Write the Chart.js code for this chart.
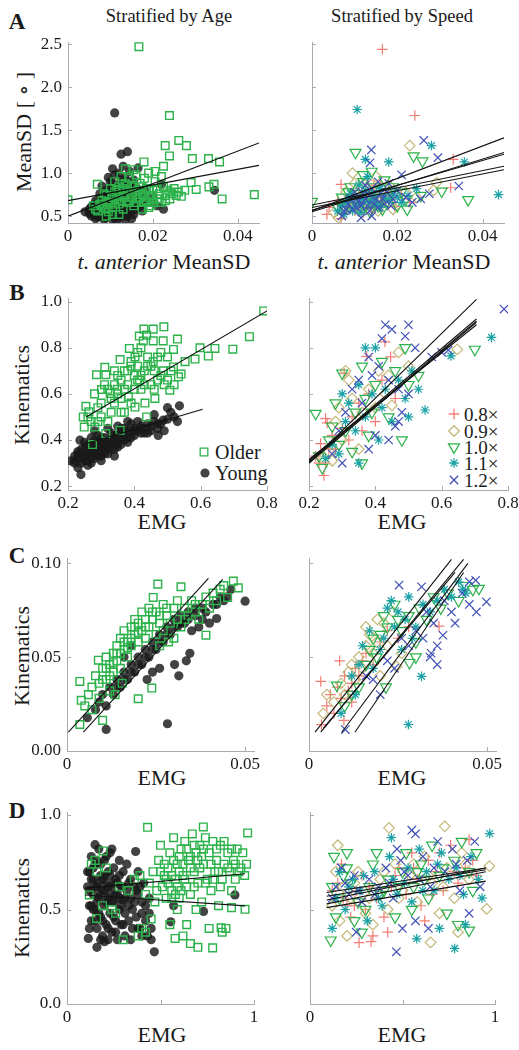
<!DOCTYPE html>
<html><head><meta charset="utf-8">
<script src="https://cdn.jsdelivr.net/npm/chart.js@4"></script>
<style>
body{margin:0;background:#fff;width:519px;height:1050px;position:relative;overflow:hidden;font-family:"Liberation Serif","Times New Roman",Tinos,Times,"DejaVu Serif",serif;color:#1a1a1a}
canvas{position:absolute}
.t{position:absolute;white-space:nowrap;transform:translate(-50%,-50%);line-height:1}
.r{transform:translate(-50%,-50%) rotate(-90deg)}
.l{position:absolute;white-space:nowrap;transform:translate(0,-50%);line-height:1}
</style></head><body>
<div class="t" style="left:17px;top:21px;font-size:23px;font-weight:bold">A</div>
<div class="t" style="left:17px;top:292px;font-size:23px;font-weight:bold">B</div>
<div class="t" style="left:17px;top:555px;font-size:23px;font-weight:bold">C</div>
<div class="t" style="left:17px;top:810px;font-size:23px;font-weight:bold">D</div>
<div class="t" style="left:169px;top:16px;font-size:18.5px">Stratified by Age</div>
<div class="t" style="left:402px;top:16px;font-size:18.5px">Stratified by Speed</div>
<div class="t r" style="left:24px;top:132px;font-size:22px">MeanSD [ ∘ ]</div>
<div class="t r" style="left:22px;top:395px;font-size:22px">Kinematics</div>
<div class="t r" style="left:22px;top:656px;font-size:22px">Kinematics</div>
<div class="t r" style="left:22px;top:908px;font-size:22px">Kinematics</div>
<div class="t" style="left:164px;top:262px;font-size:22px"><i>t. anterior</i> MeanSD</div>
<div class="t" style="left:404px;top:262px;font-size:22px"><i>t. anterior</i> MeanSD</div>
<div class="t" style="left:162px;top:522px;font-size:22px">EMG</div>
<div class="t" style="left:402px;top:522px;font-size:22px">EMG</div>
<div class="t" style="left:162px;top:778px;font-size:22px">EMG</div>
<div class="t" style="left:402px;top:778px;font-size:22px">EMG</div>
<div class="t" style="left:162px;top:1035px;font-size:22px">EMG</div>
<div class="t" style="left:402px;top:1035px;font-size:22px">EMG</div>
<div class="l" style="left:215px;top:452px;font-size:20px">Older</div>
<div class="l" style="left:215px;top:473px;font-size:20px">Young</div>
<div class="l" style="left:464px;top:414px;font-size:19px">0.8×</div>
<div class="l" style="left:464px;top:431px;font-size:19px">0.9×</div>
<div class="l" style="left:464px;top:447px;font-size:19px">1.0×</div>
<div class="l" style="left:464px;top:463px;font-size:19px">1.1×</div>
<div class="l" style="left:464px;top:480px;font-size:19px">1.2×</div>
<script>
// ---------- tick arrays ----------
const aXTicks=[0,0.02,0.04], aXTickLabels=['0','0.02','0.04'];
const aYTicks=[0.5,1.0,1.5,2.0,2.5], aYTickLabels=['0.5','1.0','1.5','2.0','2.5'];
const bXTicks=[0.2,0.4,0.6,0.8], bXTickLabels=['0.2','0.4','0.6','0.8'];
const bYTicks=[0.2,0.4,0.6,0.8,1.0], bYTickLabels=['0.2','0.4','0.6','0.8','1.0'];
const cXTicks=[0,0.05], cXTickLabels=['0','0.05'];
const cYTicks=[0,0.05,0.10], cYTickLabels=['0.00','0.05','0.10'];
const dXTicks=[0,0.5,1], dXTickLabels=['0','','1'];
const dYTicks=[0,0.5,1.0], dYTickLabels=['0.0','0.5','1.0'];

const ageGroups=['Older','Young'];
const speedGroups=['0.8×','0.9×','1.0×','1.1×','1.2×'];

// ---------- Panel A ----------
const aYoung=[[0.011,1.70],[0.014,1.25],[0.0125,1.22],[0.0105,1.05],[0.0165,1.06],[0.0345,0.80],[0.0225,0.58],[0.022,0.87],
[0.004,0.55],[0.005,0.58],[0.0055,0.50],[0.006,0.62],[0.006,0.52],[0.0065,0.47],[0.007,0.56],[0.007,0.66],[0.0075,0.50],[0.008,0.60],[0.008,0.72],[0.0085,0.46],[0.0085,0.54],[0.009,0.64],[0.009,0.80],[0.0095,0.50],[0.0095,0.70],[0.010,0.58],[0.010,0.90],[0.0105,0.46],[0.0105,0.76],[0.011,0.54],[0.011,0.66],[0.011,0.98],[0.0115,0.84],[0.0115,0.60],[0.012,0.48],[0.012,0.72],[0.012,1.00],[0.0125,0.56],[0.0125,0.88],[0.013,0.64],[0.013,0.78],[0.013,1.08],[0.0135,0.50],[0.0135,0.94],[0.014,0.70],[0.014,0.58],[0.0145,0.86],[0.0145,1.02],[0.015,0.62],[0.015,0.76],[0.0155,0.52],[0.0155,0.92],[0.016,0.68],[0.016,0.84],[0.0165,0.60],[0.017,0.74],[0.0175,0.56],[0.018,0.80],[0.019,0.66],[0.020,0.72],[0.021,0.62],[0.008,0.85],[0.0095,0.95],[0.0075,0.76],[0.0065,0.68],[0.0115,0.45],[0.0135,0.45],[0.015,0.47],[0.010,0.63],[0.012,0.62],
[0.005,0.53],[0.0055,0.61],[0.006,0.57],[0.0065,0.55],[0.007,0.49],[0.007,0.61],[0.0075,0.58],[0.0075,0.66],[0.008,0.52],[0.008,0.64],[0.0085,0.58],[0.0085,0.70],[0.009,0.48],[0.009,0.56],[0.009,0.68],[0.0095,0.60],[0.0095,0.78],[0.010,0.52],[0.010,0.70],[0.010,0.82],[0.0105,0.56],[0.0105,0.66],[0.011,0.48],[0.011,0.60],[0.011,0.72],[0.0115,0.52],[0.0115,0.66],[0.0115,0.78],[0.012,0.56],[0.012,0.68],[0.012,0.80],[0.0125,0.50],[0.0125,0.64],[0.013,0.54],[0.013,0.70],[0.0135,0.60],[0.0135,0.82],[0.014,0.50],[0.014,0.64],[0.0145,0.54],[0.0145,0.72],[0.015,0.56],[0.0155,0.66],[0.016,0.58],[0.0165,0.72],[0.017,0.62],[0.018,0.70],[0.0125,0.92],[0.0105,0.88],[0.014,0.90]];
const aOlder=[[0.0167,2.47],[0.0239,1.67],[0.0261,1.38],[0.0229,1.32],[0.0279,1.32],[0.0331,1.17],[0.0357,1.13],[0.0293,1.17],[0.0239,1.20],[0.0179,1.13],[0.0439,0.75],[0.0363,0.70],[0.0344,0.87],[0.0302,0.81],[0.029,0.89],[0.0332,0.84],[0.0267,0.73],[0.0069,0.87],[0.0,0.69],
[0.006,0.62],[0.007,0.56],[0.008,0.68],[0.0085,0.60],[0.009,0.74],[0.0095,0.55],[0.010,0.82],[0.010,0.66],[0.0105,0.60],[0.011,0.78],[0.011,0.90],[0.0115,0.70],[0.012,0.64],[0.012,0.84],[0.0125,0.96],[0.013,0.74],[0.013,0.58],[0.0135,0.88],[0.014,0.66],[0.014,0.80],[0.0145,0.94],[0.015,0.72],[0.015,0.86],[0.0155,0.62],[0.016,0.78],[0.016,0.98],[0.0165,0.70],[0.017,0.88],[0.0175,0.76],[0.018,0.66],[0.018,0.94],[0.0185,0.82],[0.019,0.72],[0.019,1.00],[0.0195,0.62],[0.020,0.80],[0.0205,0.90],[0.021,0.70],[0.0215,0.76],[0.022,0.96],[0.022,0.66],[0.0225,0.84],[0.023,0.74],[0.0235,0.80],[0.024,0.70],[0.0245,0.76],[0.025,0.82],[0.0255,0.74],[0.026,0.78],[0.0275,0.80],[0.019,0.60],[0.0175,0.58],[0.012,0.52],[0.009,0.50],[0.0105,0.52],[0.0155,1.04],[0.0135,1.05],[0.0205,1.02],[0.0225,1.08],
[0.008,0.62],[0.009,0.58],[0.0095,0.66],[0.0105,0.72],[0.011,0.64],[0.0115,0.80],[0.012,0.74],[0.0125,0.68],[0.013,0.82],[0.0135,0.72],[0.014,0.86],[0.0145,0.68],[0.015,0.78],[0.0155,0.84],[0.016,0.66],[0.0165,0.80],[0.017,0.72],[0.0175,0.84],[0.018,0.74],[0.0185,0.68],[0.019,0.80],[0.0195,0.74],[0.020,0.66],[0.021,0.82],[0.0215,0.70],[0.023,0.68],[0.024,0.78],[0.0065,0.58],[0.0075,0.64],[0.0085,0.76]];
const aSp08=[[0.0165,2.44],[0.0241,1.67],[0.0331,1.16],[0.0325,0.83],[0.0068,0.87],[0.0195,0.61],[0.0068,0.47],[0.004,0.60],[0.008,0.70],[0.010,0.56],[0.011,0.80],[0.012,0.66],[0.013,0.92],[0.014,0.60],[0.015,0.74],[0.016,0.88],[0.017,0.68],[0.018,0.78],[0.009,0.64],[0.0125,0.74],[0.021,0.70],[0.023,0.66],[0.0035,0.52],[0.006,0.68],
[0.009,0.58],[0.010,0.74],[0.011,0.64],[0.012,0.54],[0.013,0.70],[0.014,0.78],[0.015,0.62],[0.016,0.72],[0.007,0.62],[0.0145,0.86]];
const aSp09=[[0.0229,1.32],[0.0292,0.89],[0.0285,0.80],[0.0052,0.54],[0.0062,0.48],[0.008,0.78],[0.009,0.62],[0.010,0.88],[0.011,0.72],[0.012,0.58],[0.013,0.82],[0.014,0.68],[0.015,0.96],[0.016,0.62],[0.017,0.76],[0.018,0.86],[0.020,0.68],[0.022,0.78],[0.0245,0.72],[0.0075,0.56],[0.0095,1.00],[0.0155,0.56],[0.019,0.58],
[0.008,0.60],[0.0085,0.70],[0.0105,0.64],[0.0115,0.84],[0.0125,0.66],[0.0135,0.74],[0.0145,0.60],[0.0165,0.70],[0.018,0.66],[0.011,0.56]];
const aSp10=[[0.0102,1.24],[0.0238,1.20],[0.0259,1.14],[0.0304,0.79],[0.0366,0.69],[0,0.67],[0.0223,0.58],[0.006,0.60],[0.007,0.72],[0.008,0.64],[0.009,0.84],[0.010,0.70],[0.011,0.60],[0.012,0.90],[0.013,0.74],[0.0135,0.56],[0.014,1.02],[0.015,0.80],[0.016,0.70],[0.017,0.92],[0.018,0.72],[0.019,0.84],[0.020,0.62],[0.021,0.78],[0.0255,0.74],[0.012,0.98],[0.0165,0.58],
[0.0075,0.58],[0.0085,0.78],[0.0095,0.62],[0.0105,0.76],[0.0115,0.68],[0.0125,0.62],[0.014,0.66],[0.0145,0.84],[0.0155,0.62],[0.0175,0.66],[0.0185,0.78],[0.022,0.70]];
const aSp11=[[0.0106,1.74],[0.028,1.32],[0.0125,1.16],[0.018,1.13],[0.0357,1.13],[0.0437,0.75],[0.006,0.56],[0.008,0.66],[0.009,0.76],[0.010,0.62],[0.011,0.86],[0.012,0.70],[0.013,0.96],[0.014,0.76],[0.015,0.64],[0.016,0.82],[0.017,0.72],[0.019,0.76],[0.021,0.66],[0.0225,0.74],[0.0245,0.82],[0.0075,0.52],[0.0115,0.54],
[0.007,0.62],[0.0085,0.70],[0.0095,0.56],[0.0105,0.72],[0.0115,0.64],[0.0125,0.80],[0.0135,0.66],[0.0145,0.70],[0.016,0.60],[0.018,0.68],[0.020,0.72]];
const aSp12=[[0.0262,1.38],[0.0139,1.27],[0.0136,1.12],[0.0344,0.85],[0.0295,1.18],[0.007,0.50],[0.008,0.58],[0.009,0.70],[0.010,0.78],[0.0105,0.60],[0.011,0.68],[0.012,0.76],[0.0125,0.86],[0.013,0.62],[0.014,0.82],[0.015,0.70],[0.0155,0.90],[0.016,0.76],[0.017,0.64],[0.018,0.88],[0.019,0.70],[0.020,0.80],[0.021,0.98],[0.022,0.72],[0.0235,0.66],[0.0255,0.70],[0.0275,0.76],[0.014,0.50],[0.0115,0.48],
[0.0075,0.56],[0.0085,0.64],[0.0095,0.58],[0.0105,0.70],[0.0115,0.62],[0.0125,0.70],[0.0135,0.56],[0.0135,0.74],[0.0145,0.64],[0.0155,0.60],[0.0165,0.70],[0.0175,0.78],[0.0185,0.62]];
const aAgeLines=[[[0,0.50],[0.045,1.35]],[[0,0.68],[0.045,1.09]]];
const aSpeedLines=[[[0,0.56],[0.045,1.41]],[[0,0.55],[0.045,1.24]],[[0,0.57],[0.045,1.22]],[[0,0.63],[0.045,1.08]],[[0,0.60],[0.045,1.04]]];

// ---------- Panel B ----------
const bOlder=[[0.79,0.96],[0.747,0.848],[0.697,0.794],[0.643,0.797],[0.623,0.764],[0.598,0.80],[0.583,0.751],[0.553,0.74],[0.541,0.686],[0.518,0.793],[0.53,0.838],[0.489,0.891],[0.457,0.881],[0.429,0.881],[0.437,0.855],[0.415,0.851],[0.427,0.829],[0.457,0.83],[0.487,0.83],[0.385,0.797],[0.357,0.749],[0.402,0.76],[0.311,0.715],[0.314,0.683],[0.286,0.683],[0.301,0.619],[0.327,0.602],[0.349,0.62],[0.254,0.546],[0.263,0.522],[0.246,0.50],[0.249,0.456],[0.281,0.456],[0.274,0.38],[0.314,0.428],[0.357,0.442],[0.437,0.50],[0.507,0.616],[0.533,0.674],[0.518,0.717],[0.488,0.70],[0.457,0.74],[0.50,0.76],[0.416,0.66],[0.382,0.587],[0.402,0.543],[0.432,0.56],[0.462,0.58],[0.34,0.56],[0.37,0.52],[0.30,0.50],
[0.37,0.70],[0.39,0.74],[0.41,0.78],[0.44,0.72],[0.47,0.66],[0.48,0.78],[0.45,0.64],[0.42,0.62],[0.36,0.66],[0.33,0.58],[0.29,0.54],[0.27,0.48],[0.32,0.48],[0.35,0.60],[0.40,0.68],[0.43,0.70],[0.46,0.70],[0.49,0.64],[0.51,0.70],[0.38,0.64],[0.31,0.64],[0.28,0.60],[0.26,0.50],[0.34,0.70],[0.36,0.52],[0.41,0.72],[0.47,0.76],[0.42,0.80],[0.39,0.56],
[0.30,0.56],[0.32,0.62],[0.34,0.64],[0.35,0.68],[0.37,0.62],[0.38,0.70],[0.40,0.62],[0.41,0.66],[0.43,0.64],[0.44,0.76],[0.45,0.72],[0.46,0.62],[0.48,0.68],[0.50,0.66],[0.52,0.64],[0.33,0.52],[0.29,0.48],[0.36,0.58],[0.39,0.72],[0.42,0.68]];
const bYoung=[[0.208,0.309],[0.239,0.25],[0.536,0.548],[0.50,0.54],[0.472,0.42],[0.487,0.486],[0.236,0.399],
[0.22,0.30],[0.22,0.33],[0.23,0.32],[0.23,0.35],[0.24,0.30],[0.24,0.34],[0.25,0.31],[0.25,0.36],[0.25,0.39],[0.26,0.33],[0.26,0.38],[0.27,0.32],[0.27,0.35],[0.27,0.41],[0.28,0.34],[0.28,0.38],[0.29,0.33],[0.29,0.37],[0.29,0.42],[0.30,0.35],[0.30,0.39],[0.31,0.34],[0.31,0.37],[0.31,0.41],[0.32,0.36],[0.32,0.40],[0.33,0.38],[0.33,0.43],[0.34,0.36],[0.34,0.40],[0.35,0.39],[0.35,0.42],[0.35,0.46],[0.36,0.38],[0.36,0.43],[0.37,0.40],[0.37,0.45],[0.38,0.41],[0.38,0.44],[0.39,0.43],[0.39,0.47],[0.40,0.42],[0.40,0.45],[0.41,0.44],[0.41,0.48],[0.42,0.43],[0.42,0.46],[0.43,0.45],[0.44,0.47],[0.44,0.43],[0.45,0.46],[0.46,0.48],[0.47,0.45],[0.48,0.47],[0.50,0.49],[0.51,0.52],[0.53,0.48],[0.46,0.51],[0.34,0.33],[0.30,0.31],[0.26,0.29],[0.23,0.28],[0.28,0.44],[0.32,0.45],[0.38,0.48],[0.27,0.30],
[0.22,0.31],[0.23,0.34],[0.24,0.32],[0.24,0.36],[0.25,0.33],[0.26,0.31],[0.26,0.35],[0.27,0.33],[0.27,0.37],[0.28,0.32],[0.28,0.36],[0.28,0.40],[0.29,0.35],[0.29,0.39],[0.30,0.33],[0.30,0.37],[0.30,0.41],[0.31,0.36],[0.31,0.39],[0.32,0.34],[0.32,0.38],[0.33,0.36],[0.33,0.40],[0.34,0.38],[0.34,0.42],[0.35,0.37],[0.36,0.40],[0.36,0.45],[0.37,0.42],[0.38,0.39],[0.39,0.41],[0.40,0.44],[0.42,0.45],[0.43,0.43],[0.45,0.44],[0.47,0.47],[0.49,0.44],[0.52,0.50]];
const bSp08=[[0.429,0.826],[0.446,0.761],[0.374,0.763],[0.306,0.689],[0.25,0.493],[0.255,0.474],[0.235,0.384],[0.245,0.246],[0.25,0.30],[0.22,0.33],[0.27,0.42],[0.28,0.36],[0.30,0.45],[0.33,0.50],[0.35,0.56],[0.38,0.60],[0.40,0.48],[0.42,0.66],[0.36,0.44],[0.26,0.36],[0.23,0.30],[0.32,0.40],[0.46,0.58]];
const bSp09=[[0.647,0.793],[0.31,0.70],[0.32,0.66],[0.47,0.78],[0.43,0.60],[0.26,0.35],[0.28,0.48],[0.30,0.40],[0.33,0.58],[0.36,0.52],[0.38,0.62],[0.40,0.54],[0.44,0.68],[0.27,0.31],[0.35,0.36],[0.45,0.55],[0.50,0.72],[0.29,0.54],[0.24,0.32],[0.41,0.70]];
const bSp10=[[0.70,0.793],[0.49,0.80],[0.22,0.515],[0.30,0.69],[0.36,0.72],[0.23,0.33],[0.24,0.28],[0.26,0.40],[0.27,0.46],[0.29,0.38],[0.31,0.44],[0.33,0.35],[0.34,0.52],[0.36,0.30],[0.37,0.58],[0.38,0.42],[0.40,0.64],[0.42,0.74],[0.44,0.50],[0.46,0.70],[0.48,0.40],[0.50,0.64],[0.53,0.68],[0.39,0.52],[0.28,0.56]];
const bSp11=[[0.75,0.845],[0.628,0.765],[0.55,0.53],[0.50,0.50],[0.37,0.80],[0.40,0.80],[0.25,0.32],[0.27,0.38],[0.29,0.34],[0.31,0.48],[0.32,0.56],[0.34,0.44],[0.35,0.64],[0.37,0.50],[0.39,0.60],[0.41,0.40],[0.43,0.62],[0.45,0.48],[0.47,0.66],[0.49,0.58],[0.51,0.70],[0.53,0.62],[0.35,0.30],[0.30,0.60],[0.42,0.54]];
const bSp12=[[0.788,0.968],[0.43,0.90],[0.45,0.88],[0.50,0.90],[0.62,0.79],[0.57,0.76],[0.60,0.78],[0.49,0.85],[0.38,0.76],[0.42,0.84],[0.47,0.62],[0.52,0.80],[0.35,0.66],[0.33,0.62],[0.29,0.44],[0.31,0.52],[0.36,0.56],[0.39,0.68],[0.41,0.72],[0.44,0.66],[0.46,0.46],[0.48,0.52],[0.50,0.60],[0.40,0.42],[0.44,0.40],[0.27,0.34],[0.30,0.30],[0.38,0.36],[0.47,0.48]];
const bAgeLines=[[[0.255,0.50],[0.80,0.96]],[[0.24,0.378],[0.606,0.533]]];
const bSpeedLines=[[[0.2,0.30],[0.705,1.01]],[[0.2,0.31],[0.705,0.925]],[[0.2,0.30],[0.705,0.91]],[[0.2,0.305],[0.705,0.915]],[[0.2,0.315],[0.705,0.90]]];

// ---------- Panel C ----------
const cOlder=[[0.0036,0.0141],[0.0036,0.037],[0.0255,0.0888],[0.032,0.0874],[0.0242,0.0817],[0.0467,0.0904],[0.0481,0.0868],[0.0451,0.0817],[0.039,0.0616],[0.0238,0.0335],[0.020,0.0278],[0.010,0.0163],[0.0088,0.0483],
[0.004,0.027],[0.005,0.024],[0.006,0.030],[0.007,0.034],[0.007,0.022],[0.008,0.040],[0.009,0.036],[0.009,0.028],[0.010,0.044],[0.011,0.038],[0.011,0.050],[0.012,0.046],[0.012,0.032],[0.013,0.052],[0.013,0.042],[0.014,0.056],[0.014,0.048],[0.015,0.060],[0.015,0.044],[0.016,0.054],[0.016,0.064],[0.017,0.050],[0.017,0.058],[0.018,0.066],[0.018,0.056],[0.019,0.062],[0.019,0.070],[0.020,0.058],[0.020,0.068],[0.021,0.064],[0.021,0.074],[0.022,0.060],[0.022,0.070],[0.023,0.066],[0.023,0.076],[0.024,0.070],[0.025,0.062],[0.025,0.074],[0.026,0.068],[0.027,0.078],[0.027,0.064],[0.028,0.072],[0.029,0.068],[0.030,0.076],[0.030,0.060],[0.031,0.070],[0.032,0.066],[0.033,0.076],[0.034,0.072],[0.035,0.080],[0.036,0.074],[0.037,0.070],[0.038,0.078],[0.039,0.082],[0.040,0.076],[0.041,0.084],[0.042,0.080],[0.043,0.086],[0.044,0.088],[0.0135,0.030],[0.0155,0.036],[0.026,0.056],[0.0285,0.058],
[0.013,0.047],[0.015,0.052],[0.016,0.058],[0.017,0.055],[0.018,0.060],[0.019,0.066],[0.020,0.063],[0.022,0.066],[0.024,0.074],[0.026,0.072],[0.028,0.076],[0.011,0.044],[0.012,0.040],[0.014,0.052],[0.010,0.038],[0.031,0.080],[0.033,0.070],[0.036,0.078]];
const cYoung=[[0.05,0.0797],[0.042,0.0705],[0.0282,0.0145],[0.011,0.0115],[0.0057,0.0177],[0.0314,0.040],[0.0302,0.046],[0.0345,0.052],[0.0335,0.048],
[0.008,0.022],[0.009,0.026],[0.010,0.030],[0.011,0.024],[0.012,0.034],[0.013,0.030],[0.014,0.038],[0.015,0.034],[0.016,0.042],[0.017,0.038],[0.018,0.046],[0.019,0.042],[0.020,0.050],[0.021,0.046],[0.022,0.054],[0.023,0.050],[0.024,0.058],[0.025,0.054],[0.026,0.062],[0.027,0.058],[0.028,0.066],[0.029,0.062],[0.030,0.070],[0.031,0.066],[0.032,0.072],[0.033,0.068],[0.034,0.074],[0.035,0.064],[0.036,0.076],[0.037,0.066],[0.038,0.070],[0.039,0.074],[0.040,0.068],[0.041,0.078],[0.043,0.082],[0.044,0.080],[0.046,0.086],[0.024,0.042],[0.026,0.044],[0.0225,0.038],[0.018,0.056],[0.016,0.050],
[0.014,0.034],[0.016,0.038],[0.018,0.042],[0.020,0.046],[0.022,0.050],[0.024,0.054],[0.026,0.058],[0.028,0.062],[0.030,0.066],[0.032,0.068],[0.034,0.070],[0.036,0.072],[0.038,0.076],[0.042,0.078],[0.045,0.082]];
const cSp08=[[0.0033,0.037],[0.0086,0.048],[0.005,0.024],[0.0098,0.0163],[0.0035,0.014],[0.0365,0.0664],[0.006,0.030],[0.007,0.020],[0.008,0.034],[0.009,0.028],[0.010,0.040],[0.011,0.032],[0.012,0.036],[0.013,0.044],[0.014,0.040],[0.015,0.048],[0.016,0.052],[0.018,0.046],[0.020,0.058],[0.022,0.064],[0.025,0.060],[0.028,0.066],[0.012,0.026]];
const cSp09=[[0.005,0.030],[0.0246,0.045],[0.0192,0.070],[0.0236,0.074],[0.004,0.020],[0.007,0.026],[0.009,0.036],[0.010,0.030],[0.011,0.042],[0.012,0.046],[0.013,0.038],[0.014,0.050],[0.015,0.044],[0.016,0.056],[0.017,0.062],[0.018,0.052],[0.019,0.058],[0.021,0.068],[0.022,0.056],[0.016,0.066],[0.026,0.052],[0.020,0.040]];
const cSp10=[[0.0477,0.0865],[0.0216,0.034],[0.0282,0.047],[0.0078,0.035],[0.010,0.024],[0.012,0.030],[0.014,0.034],[0.016,0.046],[0.017,0.054],[0.018,0.060],[0.019,0.050],[0.020,0.062],[0.021,0.072],[0.022,0.066],[0.024,0.078],[0.025,0.070],[0.026,0.064],[0.028,0.072],[0.030,0.058],[0.031,0.076],[0.033,0.070],[0.035,0.082],[0.037,0.076],[0.039,0.084],[0.042,0.080],[0.044,0.088],[0.046,0.086],[0.030,0.050]];
const cSp11=[[0.0279,0.0141],[0.0316,0.0397],[0.0231,0.080],[0.0432,0.086],[0.009,0.020],[0.012,0.040],[0.014,0.046],[0.015,0.056],[0.017,0.064],[0.018,0.044],[0.020,0.054],[0.021,0.060],[0.022,0.076],[0.024,0.066],[0.025,0.074],[0.027,0.070],[0.029,0.060],[0.030,0.066],[0.032,0.078],[0.034,0.074],[0.036,0.080],[0.038,0.086],[0.040,0.082],[0.042,0.090],[0.044,0.084],[0.028,0.082],[0.026,0.054],[0.013,0.030]];
const cSp12=[[0.0253,0.0883],[0.0316,0.0874],[0.0498,0.0794],[0.0468,0.0908],[0.0376,0.0616],[0.0343,0.052],[0.0102,0.0114],[0.016,0.040],[0.018,0.038],[0.020,0.030],[0.022,0.048],[0.024,0.044],[0.026,0.060],[0.028,0.056],[0.030,0.064],[0.032,0.060],[0.033,0.074],[0.035,0.068],[0.036,0.056],[0.038,0.080],[0.040,0.074],[0.041,0.068],[0.043,0.084],[0.045,0.078],[0.045,0.090],[0.047,0.074],[0.034,0.050],[0.036,0.046]];
const cAgeLines=[[[0.0004,0.010],[0.0397,0.0918]],[[0.0046,0.010],[0.0437,0.0913]]];
const cSpeedLines=[[[0.0017,0.010],[0.040,0.102]],[[0.0033,0.010],[0.0434,0.102]],[[0.0092,0.010],[0.0446,0.0998]],[[0.0129,0.010],[0.0434,0.095]],[[0.004,0.012],[0.041,0.095]]];

// ---------- Panel D ----------
const dYoung=[[0.15,0.843],[0.367,0.807],[0.467,0.276],[0.114,0.347],
[0.11,0.62],[0.12,0.70],[0.12,0.52],[0.13,0.78],[0.13,0.44],[0.14,0.58],[0.14,0.66],[0.15,0.50],[0.15,0.74],[0.16,0.40],[0.16,0.62],[0.17,0.56],[0.17,0.82],[0.18,0.46],[0.18,0.68],[0.19,0.36],[0.19,0.60],[0.20,0.52],[0.20,0.76],[0.21,0.42],[0.21,0.64],[0.22,0.56],[0.22,0.70],[0.23,0.48],[0.23,0.80],[0.24,0.38],[0.24,0.62],[0.25,0.54],[0.25,0.72],[0.26,0.44],[0.26,0.66],[0.27,0.34],[0.27,0.58],[0.28,0.50],[0.28,0.76],[0.29,0.42],[0.29,0.62],[0.30,0.55],[0.30,0.70],[0.31,0.36],[0.31,0.48],[0.32,0.60],[0.32,0.74],[0.33,0.44],[0.34,0.56],[0.34,0.66],[0.35,0.40],[0.35,0.50],[0.36,0.62],[0.37,0.46],[0.38,0.58],[0.38,0.70],[0.39,0.40],[0.40,0.54],[0.41,0.64],[0.42,0.44],[0.43,0.36],[0.44,0.56],[0.45,0.40],[0.20,0.33],[0.16,0.30],[0.12,0.40],[0.24,0.82],[0.28,0.68],[0.555,0.435],[0.898,0.577],[0.73,0.49],[0.57,0.52],
[0.11,0.70],[0.12,0.60],[0.13,0.66],[0.13,0.52],[0.14,0.72],[0.14,0.50],[0.15,0.62],[0.15,0.44],[0.16,0.76],[0.16,0.54],[0.17,0.64],[0.17,0.48],[0.18,0.58],[0.18,0.74],[0.19,0.66],[0.19,0.44],[0.20,0.60],[0.20,0.68],[0.21,0.54],[0.21,0.78],[0.22,0.62],[0.22,0.40],[0.23,0.58],[0.23,0.68],[0.24,0.54],[0.25,0.64],[0.25,0.46],[0.26,0.58],[0.27,0.64],[0.28,0.56],[0.29,0.52],[0.30,0.62],[0.31,0.56],[0.33,0.52],[0.33,0.64],[0.36,0.54],[0.37,0.60],[0.39,0.62],[0.40,0.48],[0.42,0.52],[0.44,0.48],[0.26,0.38],[0.30,0.42],[0.34,0.34],[0.38,0.40],[0.40,0.36],[0.45,0.34],[0.18,0.34],[0.22,0.34]];
const dOlder=[[0.431,0.935],[0.729,0.937],[0.966,0.905],[0.779,0.297],[0.66,0.32],[0.578,0.347],[0.952,0.501],[0.824,0.403],[0.119,0.577],[0.158,0.453],[0.15,0.76],[0.193,0.81],
[0.13,0.74],[0.16,0.70],[0.19,0.52],[0.21,0.72],[0.24,0.50],[0.26,0.48],[0.28,0.62],[0.30,0.34],[0.33,0.60],[0.36,0.66],[0.38,0.36],[0.39,0.68],[0.40,0.40],[0.42,0.58],[0.44,0.64],[0.46,0.70],[0.47,0.54],[0.49,0.76],[0.50,0.84],[0.51,0.62],[0.52,0.68],[0.53,0.56],[0.54,0.72],[0.55,0.80],[0.56,0.60],[0.57,0.88],[0.58,0.66],[0.59,0.74],[0.60,0.56],[0.61,0.82],[0.62,0.68],[0.63,0.86],[0.64,0.62],[0.65,0.76],[0.66,0.58],[0.67,0.90],[0.68,0.70],[0.69,0.80],[0.70,0.64],[0.71,0.84],[0.72,0.54],[0.73,0.74],[0.74,0.88],[0.75,0.66],[0.76,0.80],[0.77,0.60],[0.78,0.86],[0.79,0.70],[0.80,0.76],[0.81,0.52],[0.82,0.84],[0.83,0.66],[0.84,0.74],[0.85,0.40],[0.86,0.80],[0.87,0.70],[0.88,0.60],[0.89,0.76],[0.90,0.66],[0.91,0.82],[0.93,0.72],[0.95,0.68],[0.96,0.74],[0.55,0.42],[0.59,0.50],[0.62,0.36],[0.69,0.50],[0.76,0.40],[0.83,0.38],[0.88,0.51],[0.45,0.45],[0.42,0.38],[0.64,0.42],[0.70,0.30],[0.58,0.58],[0.72,0.78],[0.48,0.60],[0.53,0.66],[0.66,0.72],[0.60,0.78],
[0.50,0.70],[0.52,0.74],[0.54,0.64],[0.56,0.68],[0.57,0.76],[0.60,0.70],[0.62,0.74],[0.63,0.66],[0.64,0.82],[0.66,0.78],[0.68,0.62],[0.68,0.84],[0.70,0.76],[0.71,0.72],[0.73,0.82],[0.74,0.64],[0.77,0.74],[0.78,0.66],[0.80,0.82],[0.81,0.70],[0.82,0.62],[0.84,0.86],[0.86,0.72],[0.88,0.82],[0.90,0.74],[0.92,0.70],[0.94,0.80],[0.59,0.62],[0.56,0.56],[0.61,0.60]];
const dSp08=[[0.86,0.87],[0.265,0.325],[0.33,0.33],[0.34,0.36],[0.15,0.64],[0.17,0.74],[0.20,0.52],[0.22,0.46],[0.25,0.60],[0.28,0.68],[0.30,0.50],[0.36,0.56],[0.40,0.46],[0.44,0.62],[0.48,0.72],[0.52,0.58],[0.55,0.80],[0.58,0.66],[0.60,0.52],[0.64,0.76],[0.68,0.70],[0.72,0.60],[0.76,0.84],[0.80,0.64],[0.84,0.72],[0.90,0.68],[0.42,0.38],[0.62,0.44],[0.12,0.60],
[0.18,0.56],[0.24,0.52],[0.32,0.62],[0.46,0.68],[0.56,0.72],[0.66,0.58],[0.70,0.80],[0.78,0.70],[0.88,0.76]];
const dSp09=[[0.427,0.932],[0.728,0.94],[0.15,0.84],[0.97,0.73],[0.955,0.503],[0.652,0.326],[0.20,0.36],[0.12,0.52],[0.18,0.62],[0.22,0.56],[0.26,0.70],[0.30,0.48],[0.34,0.42],[0.38,0.66],[0.42,0.50],[0.46,0.74],[0.50,0.60],[0.54,0.68],[0.58,0.54],[0.62,0.78],[0.66,0.64],[0.70,0.48],[0.74,0.72],[0.78,0.56],[0.82,0.80],[0.86,0.66],[0.80,0.38],[0.16,0.44],
[0.14,0.70],[0.24,0.64],[0.32,0.56],[0.40,0.70],[0.48,0.56],[0.56,0.74],[0.64,0.68],[0.72,0.62],[0.84,0.74]];
const dSp10=[[0.112,0.338],[0.86,0.39],[0.13,0.78],[0.20,0.80],[0.36,0.80],[0.14,0.46],[0.16,0.56],[0.18,0.68],[0.22,0.64],[0.24,0.44],[0.26,0.54],[0.28,0.38],[0.32,0.62],[0.34,0.74],[0.38,0.58],[0.42,0.66],[0.46,0.46],[0.50,0.70],[0.52,0.80],[0.56,0.62],[0.60,0.74],[0.64,0.56],[0.66,0.84],[0.70,0.68],[0.74,0.48],[0.78,0.76],[0.82,0.86],[0.88,0.60],[0.90,0.80],[0.80,0.42],[0.55,0.50],
[0.12,0.62],[0.20,0.72],[0.30,0.50],[0.40,0.60],[0.48,0.62],[0.58,0.70],[0.62,0.66],[0.72,0.72],[0.86,0.70]];
const dSp11=[[0.971,0.902],[0.782,0.294],[0.577,0.345],[0.12,0.40],[0.16,0.70],[0.19,0.50],[0.23,0.66],[0.27,0.60],[0.31,0.44],[0.35,0.70],[0.39,0.52],[0.43,0.78],[0.47,0.58],[0.51,0.64],[0.55,0.54],[0.59,0.82],[0.63,0.70],[0.67,0.60],[0.71,0.80],[0.75,0.66],[0.79,0.72],[0.83,0.58],[0.87,0.78],[0.91,0.66],[0.93,0.56],[0.44,0.88],[0.70,0.40],[0.84,0.42],
[0.14,0.56],[0.21,0.62],[0.29,0.68],[0.37,0.56],[0.45,0.66],[0.53,0.72],[0.61,0.60],[0.69,0.74],[0.81,0.68]];
const dSp12=[[0.55,0.92],[0.467,0.276],[0.57,0.90],[0.47,0.82],[0.14,0.62],[0.17,0.72],[0.21,0.58],[0.24,0.68],[0.28,0.54],[0.32,0.66],[0.37,0.62],[0.41,0.72],[0.45,0.56],[0.49,0.76],[0.53,0.68],[0.57,0.44],[0.61,0.78],[0.65,0.62],[0.69,0.86],[0.73,0.70],[0.77,0.82],[0.81,0.60],[0.85,0.76],[0.89,0.86],[0.92,0.62],[0.86,0.48],[0.64,0.40],[0.25,0.38],[0.50,0.40],
[0.12,0.56],[0.19,0.64],[0.26,0.60],[0.35,0.58],[0.43,0.64],[0.51,0.70],[0.59,0.66],[0.67,0.72],[0.79,0.74]];
const dAgeLines=[[[0.096,0.613],[0.952,0.689]],[[0.096,0.577],[0.952,0.519]]];
const dSpeedLines=[[[0.09,0.59],[0.95,0.72]],[[0.09,0.57],[0.95,0.71]],[[0.09,0.55],[0.95,0.72]],[[0.09,0.53],[0.95,0.70]],[[0.09,0.51],[0.95,0.65]]];

// ---------- styles ----------
const AXIS='#a7abb3', TXT='#1a1a1a';
const GREEN='#2db24b', DARK='rgba(26,26,26,0.82)';
const SPEED_STYLE=[
 {color:'#f27d74',style:'cross',r:5.3,rot:0},
 {color:'#c4b878',style:'rectRot',r:5.3,rot:0},
 {color:'#2db24b',style:'triangle',r:6.3,rot:180},
 {color:'#1aa2a6',style:'star',r:4.8,rot:0},
 {color:'#3f50b6',style:'crossRot',r:5.9,rot:0}
];
const FAMILY='"Liberation Serif","Times New Roman",Tinos,Times,"DejaVu Serif",serif';
const FONT={family:FAMILY,size:17};

function pts(a){return a.map(p=>({x:p[0],y:p[1]}));}
function lineSets(lines){return lines.map(l=>({type:'scatter',data:pts(l),showLine:true,borderColor:'#111',borderWidth:1.1,pointRadius:0,fill:false}));}
function ageSets(older,young){return [
 {data:pts(older),pointStyle:'rect',pointRadius:5.4,pointBorderColor:GREEN,pointBackgroundColor:'rgba(0,0,0,0)',pointBorderWidth:1.4},
 {data:pts(young),pointStyle:'circle',pointRadius:4.6,pointBorderColor:DARK,pointBackgroundColor:DARK,pointBorderWidth:0}
];}
function speedSets(groups){
 const order=[4,3,2,1,0];
 return order.map(i=>({data:pts(groups[i]),pointStyle:SPEED_STYLE[i].style,rotation:SPEED_STYLE[i].rot,pointRadius:SPEED_STYLE[i].r,pointBorderColor:SPEED_STYLE[i].color,pointBackgroundColor:'rgba(0,0,0,0)',pointBorderWidth:1.2}));
}

const inwardTicks={id:'inwardTicks',afterDraw(chart){
 const {ctx,chartArea:a,scales:{x,y}}=chart;
 ctx.save();ctx.strokeStyle=AXIS;ctx.lineWidth=1;ctx.beginPath();
 x.ticks.forEach(t=>{const p=Math.round(x.getPixelForValue(t.value))+0.5;ctx.moveTo(p,a.bottom);ctx.lineTo(p,a.bottom-4);});
 y.ticks.forEach(t=>{const p=Math.round(y.getPixelForValue(t.value))+0.5;ctx.moveTo(a.left,p);ctx.lineTo(a.left+4,p);});
 ctx.stroke();ctx.restore();
}};

function drawMarker(ctx,st,x,y,r,color,fill){
 ctx.save();ctx.strokeStyle=color;ctx.fillStyle=fill||'rgba(0,0,0,0)';ctx.lineWidth=1.3;ctx.beginPath();
 if(st==='rect'){const s=Math.SQRT1_2*r;ctx.rect(x-s,y-s,2*s,2*s);ctx.stroke();}
 else if(st==='circle'){ctx.arc(x,y,r,0,Math.PI*2);ctx.fill();}
 else if(st==='cross'){ctx.moveTo(x-r,y);ctx.lineTo(x+r,y);ctx.moveTo(x,y-r);ctx.lineTo(x,y+r);ctx.stroke();}
 else if(st==='crossRot'){const o=r*Math.SQRT1_2;ctx.moveTo(x-o,y-o);ctx.lineTo(x+o,y+o);ctx.moveTo(x-o,y+o);ctx.lineTo(x+o,y-o);ctx.stroke();}
 else if(st==='rectRot'){ctx.moveTo(x,y-r);ctx.lineTo(x+r,y);ctx.lineTo(x,y+r);ctx.lineTo(x-r,y);ctx.closePath();ctx.stroke();}
 else if(st==='triangle'){const w=r*Math.sin(Math.PI/3);ctx.moveTo(x,y+r);ctx.lineTo(x-w,y-r/2);ctx.lineTo(x+w,y-r/2);ctx.closePath();ctx.stroke();}
 else if(st==='star'){const o=r*Math.SQRT1_2;ctx.moveTo(x-r,y);ctx.lineTo(x+r,y);ctx.moveTo(x,y-r);ctx.lineTo(x,y+r);ctx.moveTo(x-o,y-o);ctx.lineTo(x+o,y+o);ctx.moveTo(x-o,y+o);ctx.lineTo(x+o,y-o);ctx.stroke();}
 ctx.restore();
}

const PADL=62,PADT=8,PADR=18,PADB=30;
function makePanel(rect,xr,yr,xt,xtl,yt,ytl,showY,datasets,legend){
 const [L,T,R,B]=rect;
 const c=document.createElement('canvas');
 const W=R-L+PADL+PADR,H=B-T+PADT+PADB;
 c.width=W;c.height=H;c.style.left=(L-PADL)+'px';c.style.top=(T-PADT)+'px';c.style.width=W+'px';c.style.height=H+'px';
 document.body.appendChild(c);
 const plugins=[inwardTicks];
 if(legend){plugins.push({id:'leg',afterDraw(ch){legend.forEach(m=>drawMarker(ch.ctx,m.st,m.x-(L-PADL),m.y-(T-PADT),m.r,m.c,m.f));}});}
 new Chart(c,{type:'scatter',data:{datasets},plugins,
  options:{responsive:false,animation:false,devicePixelRatio:1,events:[],
   layout:{padding:{left:0,top:PADT,right:PADR,bottom:0},autoPadding:false},
   plugins:{legend:{display:false},tooltip:{enabled:false}},
   scales:{
    x:{type:'linear',position:'bottom',min:xr[0],max:xr[1],
     grid:{display:false,drawTicks:false},border:{display:true,color:AXIS,width:1},
     ticks:{autoSkip:false,maxRotation:0,padding:3,color:TXT,font:FONT,callback:(v,i)=>xtl[i]},
     afterBuildTicks:s=>{s.ticks=xt.map(v=>({value:v}));},
     afterFit:s=>{s.height=PADB;s.paddingLeft=0;s.paddingRight=0;}},
    y:{type:'linear',position:'left',min:yr[0],max:yr[1],
     grid:{display:false,drawTicks:false},border:{display:true,color:AXIS,width:1},
     ticks:{display:showY,autoSkip:false,padding:6,color:TXT,font:FONT,callback:(v,i)=>ytl[i]},
     afterBuildTicks:s=>{s.ticks=yt.map(v=>({value:v}));},
     afterFit:s=>{s.width=PADL;s.paddingTop=0;s.paddingBottom=0;}}
   }}});
}

const AR=[0,0.045],AY=[0.42,2.525];
const BR=[0.2,0.8],BY=[0.183,1.016];
const CR=[0,0.0525],CY=[0,0.1027];
const DR=[0,1],DY=[0,1.016];

makePanel([68,42,259,223],AR,AY,aXTicks,aXTickLabels,aYTicks,aYTickLabels,true,[...lineSets(aAgeLines),...ageSets(aOlder,aYoung)]);
makePanel([312,42,504,223],AR,AY,aXTicks,aXTickLabels,aYTicks,aYTickLabels,false,[...lineSets(aSpeedLines),...speedSets([aSp08,aSp09,aSp10,aSp11,aSp12])]);
makePanel([68,298,267,490],BR,BY,bXTicks,bXTickLabels,bYTicks,bYTickLabels,true,[...lineSets(bAgeLines),...ageSets(bOlder,bYoung)],
 [{st:'rect',x:204,y:452,r:5.4,c:GREEN},{st:'circle',x:205,y:473,r:4.6,c:DARK,f:DARK}]);
makePanel([309,298,508,490],BR,BY,bXTicks,bXTickLabels,bYTicks,bYTickLabels,false,[...lineSets(bSpeedLines),...speedSets([bSp08,bSp09,bSp10,bSp11,bSp12])],
 SPEED_STYLE.map((s,i)=>({st:s.style,x:454,y:[414,431,447,463,480][i],r:s.r,c:s.color})));
makePanel([67,558,254,751],CR,CY,cXTicks,cXTickLabels,cYTicks,cYTickLabels,true,[...lineSets(cAgeLines),...ageSets(cOlder,cYoung)]);
makePanel([309,558,496,751],CR,CY,cXTicks,cXTickLabels,cYTicks,cYTickLabels,false,[...lineSets(cSpeedLines),...speedSets([cSp08,cSp09,cSp10,cSp11,cSp12])]);
makePanel([67,812,254,1004],DR,DY,dXTicks,dXTickLabels,dYTicks,dYTickLabels,true,[...lineSets(dAgeLines),...ageSets(dOlder,dYoung)]);
makePanel([310,812,495,1004],DR,DY,dXTicks,dXTickLabels,dYTicks,dYTickLabels,false,[...lineSets(dSpeedLines),...speedSets([dSp08,dSp09,dSp10,dSp11,dSp12])]);
</script>
</body></html>
